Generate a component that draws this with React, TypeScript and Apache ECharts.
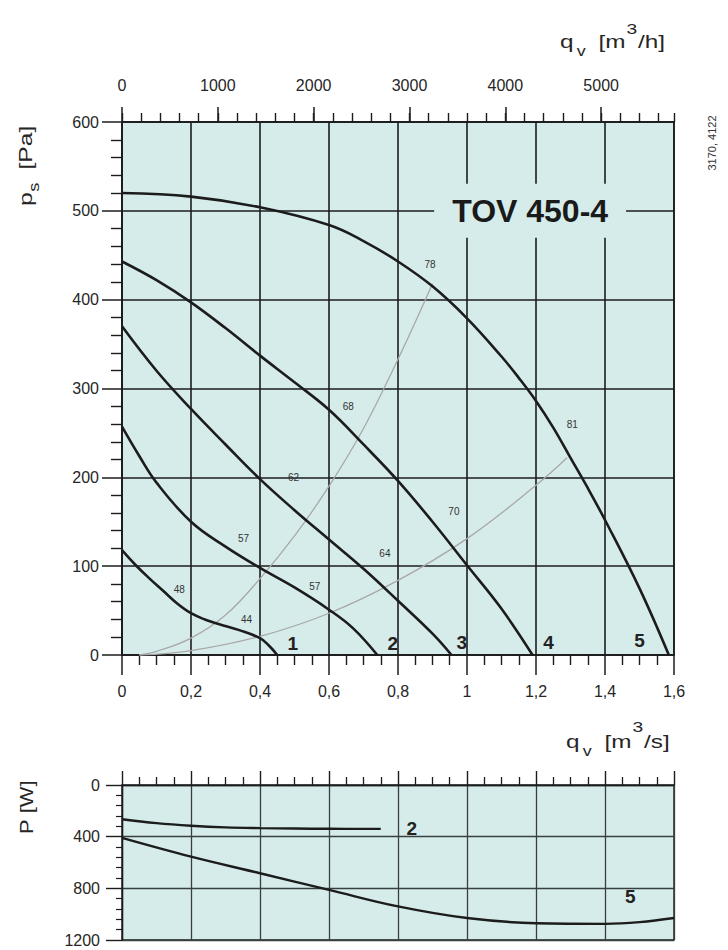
import React, { useEffect, useRef } from 'react';
import * as echarts from 'echarts';

// ---------- data ----------
// main chart: q_v [m3/s] vs p_s [Pa]
const curve1 = [[0, 118], [0.04, 101], [0.08, 86], [0.12, 72], [0.16, 58], [0.2, 47], [0.24, 40], [0.28, 35], [0.34, 28], [0.4, 19], [0.425, 11], [0.45, 0]];
const curve2 = [[0, 257], [0.05, 224], [0.1, 194], [0.2, 150], [0.3, 122], [0.4, 98], [0.5, 76], [0.6, 51], [0.67, 30], [0.74, 0]];
const curve3 = [[0, 370], [0.1, 320], [0.2, 277], [0.3, 237], [0.4, 198], [0.5, 163], [0.6, 130], [0.7, 97], [0.8, 61], [0.9, 24], [0.955, 0]];
const curve4 = [[0, 443], [0.1, 422], [0.2, 397], [0.3, 368], [0.4, 337], [0.5, 307], [0.6, 276], [0.7, 237], [0.8, 196], [0.9, 150], [1.0, 101], [1.1, 52], [1.19, 0]];
const curve5 = [[0, 520], [0.2, 516], [0.4, 504], [0.6, 484], [0.7, 466], [0.8, 443], [0.9, 415], [1.0, 379], [1.1, 336], [1.15, 312], [1.2, 286], [1.25, 256], [1.3, 222], [1.35, 188], [1.4, 152], [1.5, 75], [1.585, 0]];
const systemA = [[0.05, 0], [0.1, 4], [0.2, 19], [0.3, 45], [0.4, 86], [0.5, 134], [0.6, 190], [0.7, 255], [0.8, 333], [0.9, 418]];
const systemB = [[0.05, 0], [0.2, 5], [0.4, 21], [0.6, 47], [0.8, 84], [1.0, 131], [1.2, 191], [1.29, 222]];

// efficiency / level labels
const levelLabels = [
  { t: '78', x: 0.893, y: 440 },
  { t: '68', x: 0.656, y: 280 },
  { t: '81', x: 1.305, y: 259 },
  { t: '62', x: 0.497, y: 200 },
  { t: '70', x: 0.962, y: 161 },
  { t: '57', x: 0.352, y: 131 },
  { t: '64', x: 0.762, y: 114 },
  { t: '48', x: 0.166, y: 74 },
  { t: '57', x: 0.559, y: 77 },
  { t: '44', x: 0.361, y: 40 },
];
const curveNames = [
  { t: '1', x: 0.495, y: 13 },
  { t: '2', x: 0.785, y: 13 },
  { t: '3', x: 0.985, y: 14 },
  { t: '4', x: 1.236, y: 14 },
  { t: '5', x: 1.5, y: 16 },
];
const modelName = { t: 'TOV 450-4', x: 1.183, y: 500 };

// power chart: q_v [m3/s] vs P [W]
const power2 = [[0, 265], [0.1, 295], [0.2, 315], [0.3, 328], [0.4, 334], [0.5, 337], [0.6, 339], [0.75, 340]];
const power5 = [[0, 410], [0.2, 555], [0.4, 683], [0.6, 812], [0.8, 940], [1.0, 1030], [1.2, 1070], [1.4, 1075], [1.5, 1062], [1.6, 1030]];
const powerNames = [
  { t: '2', x: 0.84, y: 340 },
  { t: '5', x: 1.473, y: 864 },
];

const qvMax = 1.6;
const qhMax = 5760;
const psMax = 600;
const pMax = 1200;

// ---------- style ----------
const BG = '#d6ecea';
const INK = '#1c1c1c';
const GRAY = '#a8a8a8';
const FONT = "'Liberation Sans', Arial, Helvetica, sans-serif";
const LABEL = '#262626';

const commaFmt = (v: number) => {
  const r = Math.round(v * 10) / 10;
  return String(r).replace('.', ',');
};
const plainFmt = (v: number) => String(Math.round(v));

function buildOption(): any {
  const line = (width: number) => ({ color: INK, width });
  const fan = (data: number[][]) => ({
    type: 'line', xAxisIndex: 0, yAxisIndex: 0, data, symbol: 'none', showSymbol: false,
    smooth: 0.4, lineStyle: { color: INK, width: 2.6 }, silent: true, z: 5,
  });
  const sys = (data: number[][]) => ({
    type: 'line', xAxisIndex: 0, yAxisIndex: 0, data, symbol: 'none', showSymbol: false,
    smooth: 0.4, lineStyle: { color: GRAY, width: 1.3 }, silent: true, z: 4,
  });
  const pw = (data: number[][]) => ({
    type: 'line', xAxisIndex: 3, yAxisIndex: 1, data, symbol: 'none', showSymbol: false,
    smooth: 0.4, lineStyle: { color: INK, width: 2.4 }, silent: true, z: 5,
  });
  const labels = (items: { t: string; x: number; y: number }[], xi: number, yi: number, size: number, weight: string, color: string) => ({
    type: 'scatter', xAxisIndex: xi, yAxisIndex: yi, symbolSize: 0, silent: true, z: 7,
    itemStyle: { opacity: 1 },
    data: items.map((l) => ({ value: [l.x, l.y], name: l.t })),
    label: { show: true, position: 'inside', formatter: '{b}', fontSize: size, fontWeight: weight, color, fontFamily: FONT },
  });
  const t = (text: string, x: number, y: number, size: number) => ({
    type: 'text', x, y, style: { text, fontSize: size, fontFamily: FONT, fill: LABEL, align: 'left', verticalAlign: 'middle' },
  });

  return {
    animation: false,
    backgroundColor: '#ffffff',
    textStyle: { fontFamily: FONT },
    grid: [
      { left: 122, top: 122, width: 552, height: 533, show: true, backgroundColor: BG, borderColor: INK, borderWidth: 1.6, containLabel: false },
      { left: 122, top: 785, width: 552, height: 155, show: true, backgroundColor: BG, borderColor: INK, borderWidth: 1.4, containLabel: false },
    ],
    xAxis: [
      {
        gridIndex: 0, type: 'value', min: 0, max: qvMax, interval: 0.2, position: 'bottom',
        axisLine: { show: true, onZero: false, lineStyle: line(1.6) },
        axisTick: { show: true, length: 20, lineStyle: line(1.5) },
        minorTick: { show: true, splitNumber: 4, length: 10, lineStyle: line(1.4) },
        axisLabel: { formatter: commaFmt, fontSize: 16, color: LABEL, margin: 28, fontFamily: FONT },
        splitLine: { show: true, lineStyle: line(1.6) },
      },
      {
        gridIndex: 0, type: 'value', min: 0, max: qhMax, interval: 1000, position: 'top',
        axisLine: { show: true, onZero: false, lineStyle: line(1.6) },
        axisTick: { show: true, length: 15, lineStyle: line(1.5) },
        axisLabel: { formatter: plainFmt, fontSize: 16, color: LABEL, margin: 29, showMaxLabel: false, fontFamily: FONT },
        splitLine: { show: false },
      },
      {
        gridIndex: 0, type: 'value', min: 0, max: qhMax, interval: 200, position: 'top',
        axisLine: { show: false, onZero: false },
        axisTick: { show: true, length: 9, lineStyle: line(1.4) },
        axisLabel: { show: false },
        splitLine: { show: false },
      },
      {
        gridIndex: 1, type: 'value', min: 0, max: qvMax, interval: 0.2, position: 'top',
        axisLine: { show: true, onZero: false, lineStyle: line(1.4) },
        axisTick: { show: true, length: 14, lineStyle: line(1.4) },
        minorTick: { show: true, splitNumber: 4, length: 8, lineStyle: line(1.3) },
        axisLabel: { show: false },
        splitLine: { show: true, lineStyle: { color: '#38403f', width: 1.3 } },
      },
    ],
    yAxis: [
      {
        gridIndex: 0, type: 'value', min: 0, max: psMax, interval: 100,
        axisLine: { show: true, onZero: false, lineStyle: line(1.6) },
        axisTick: { show: true, length: 20, lineStyle: line(1.5) },
        minorTick: { show: true, splitNumber: 5, length: 11, lineStyle: line(1.4) },
        axisLabel: { formatter: plainFmt, fontSize: 16, color: LABEL, margin: 23, fontFamily: FONT },
        splitLine: { show: true, lineStyle: line(1.6) },
      },
      {
        gridIndex: 1, type: 'value', min: 0, max: pMax, interval: 400, inverse: true,
        axisLine: { show: true, onZero: false, lineStyle: line(1.4) },
        axisTick: { show: true, length: 16, lineStyle: line(1.4) },
        minorTick: { show: true, splitNumber: 5, length: 6, lineStyle: line(1.2) },
        axisLabel: { formatter: plainFmt, fontSize: 16, color: LABEL, margin: 22, fontFamily: FONT },
        splitLine: { show: true, lineStyle: { color: '#38403f', width: 1.3 } },
      },
    ],
    series: [
      sys(systemA),
      sys(systemB),
      fan(curve1),
      fan(curve2),
      fan(curve3),
      fan(curve4),
      fan(curve5),
      labels(levelLabels, 0, 0, 10, 'normal', '#333333'),
      labels(curveNames, 0, 0, 19, 'bold', '#222222'),
      {
        type: 'scatter', xAxisIndex: 0, yAxisIndex: 0, symbolSize: 0, silent: true, z: 8,
        itemStyle: { opacity: 1 },
        data: [{ value: [modelName.x, modelName.y], name: modelName.t }],
        label: {
          show: true, position: 'inside', formatter: '{b}', fontSize: 32, fontWeight: 'bold',
          color: '#1a1a1a', fontFamily: FONT, backgroundColor: BG, padding: [12, 18, 10, 18],
        },
      },
      pw(power2),
      pw(power5),
      labels(powerNames, 3, 1, 19, 'bold', '#222222'),
    ],
    graphic: [
      // p_s [Pa]
      {
        type: 'group', x: 26, y: 206, rotation: Math.PI / 2, scaleX: 1.3,
        children: [t('p', 0, 0, 19), t('s', 11, 8, 14), t('[Pa]', 28, 0, 19)],
      },
      // P [W]
      {
        type: 'group', x: 26, y: 834, rotation: Math.PI / 2, scaleX: 1.15,
        children: [t('P', 0, 0, 19), t('[W]', 18, 0, 19)],
      },
      // q_v [m3/h]
      {
        type: 'group', x: 560, y: 41, scaleX: 1.28,
        children: [t('q', 0, 0, 19), t('v', 13, 10, 14), t('[m', 30, 0, 19), t('3', 52, -12, 15), t('/h]', 61, 0, 19)],
      },
      // q_v [m3/s]
      {
        type: 'group', x: 566, y: 741, scaleX: 1.28,
        children: [t('q', 0, 0, 19), t('v', 13, 10, 14), t('[m', 30, 0, 19), t('3', 52, -14, 15), t('/s]', 61, 0, 19)],
      },
      // drawing reference number
      {
        type: 'text', x: 712, y: 143, rotation: Math.PI / 2,
        style: { text: '3170, 4122', fontSize: 11, fontFamily: FONT, fill: '#333333', align: 'center', verticalAlign: 'middle' },
      },
    ],
  };
}

export default function App() {
  const ref = useRef<HTMLDivElement>(null);
  useEffect(() => {
    if (!ref.current) return;
    const chart = echarts.init(ref.current, null, { renderer: 'svg' });
    chart.setOption(buildOption());
    return () => chart.dispose();
  }, []);
  return (
    <div
      ref={ref}
      style={{ position: 'fixed', left: 0, top: 0, width: 728, height: 950, background: '#ffffff' }}
    />
  );
}
